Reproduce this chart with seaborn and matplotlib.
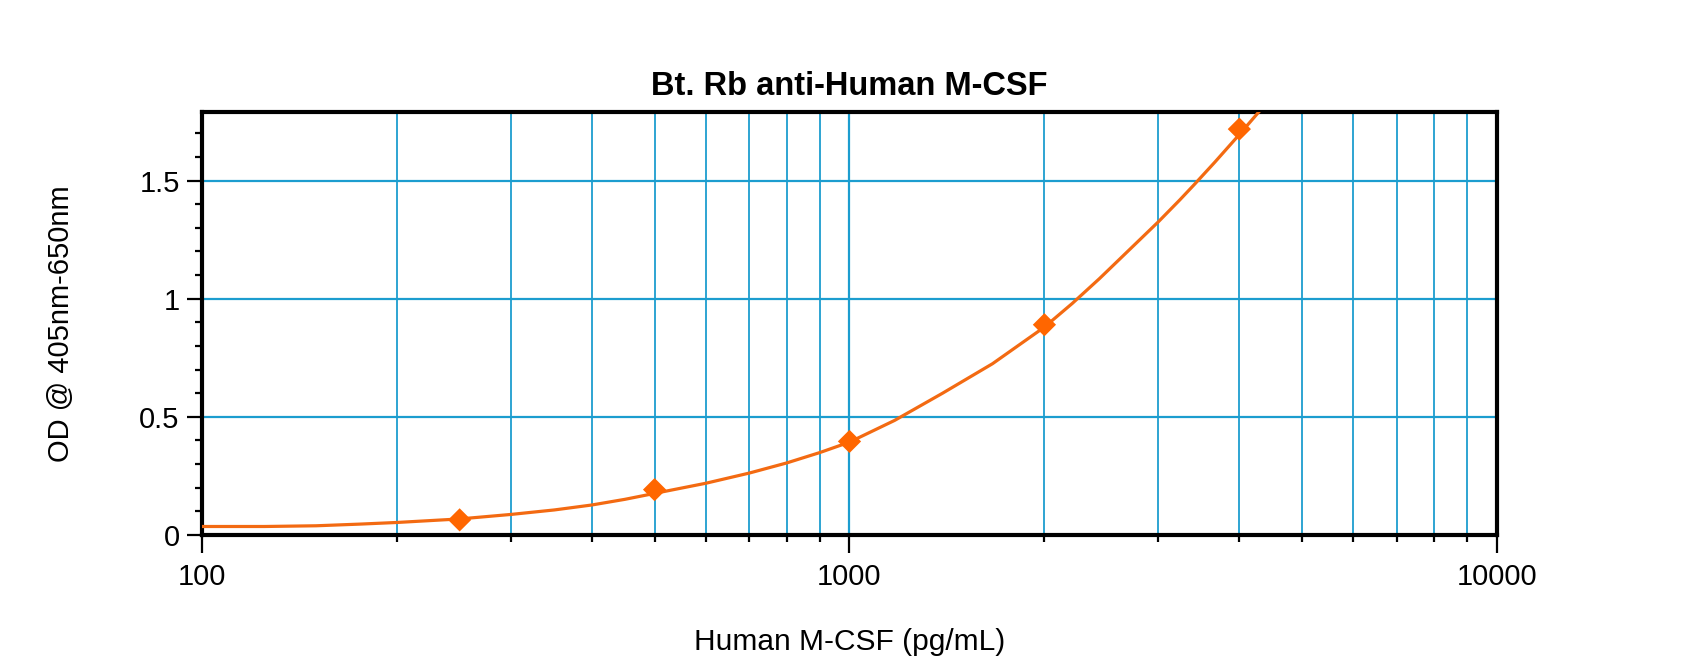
import numpy as np
import pandas as pd
import seaborn as sns
import matplotlib
matplotlib.use('Agg')
import matplotlib.pyplot as plt
from matplotlib.ticker import LogLocator, MultipleLocator, FuncFormatter

sns.set_style('white')
plt.rcParams['font.family'] = ['Liberation Sans', 'DejaVu Sans']
plt.rcParams['text.color'] = 'black'
plt.rcParams['axes.labelcolor'] = 'black'
plt.rcParams['xtick.color'] = 'black'
plt.rcParams['ytick.color'] = 'black'

# standard points (pg/mL, OD)
conc = [250, 500, 1000, 2000, 4000]
od = [0.064, 0.192, 0.396, 0.89, 1.718]

# fitted curve
curve_x = [100, 125, 150, 175, 200, 250, 300, 350, 400, 450, 500, 600, 700,
           800, 900, 1000, 1174, 1392, 1663, 2000, 2208, 2432, 3000, 3236,
           3415, 3666, 4000, 4208, 4300]
curve_y = [0.036, 0.036, 0.039, 0.046, 0.053, 0.068, 0.087, 0.106, 0.127,
           0.151, 0.176, 0.219, 0.262, 0.305, 0.349, 0.393, 0.485, 0.60, 0.725,
           0.88, 0.98, 1.085, 1.326, 1.418, 1.486, 1.578, 1.695, 1.765, 1.795]

pts = pd.DataFrame({'conc': conc, 'od': od})
fit = pd.DataFrame({'conc': curve_x, 'od': curve_y})

grid_col = '#1c9dcf'
orange = '#f36a12'

fig = plt.figure(figsize=(17, 6.66), dpi=100)
ax = fig.add_axes([0.1188, 0.1967, 0.7618, 0.635])

sns.lineplot(data=fit, x='conc', y='od', ax=ax, color=orange, linewidth=2.3, zorder=3)
sns.scatterplot(data=pts, x='conc', y='od', ax=ax, color='#ff6600', marker='D',
                s=140, edgecolor='none', zorder=4)

ax.set_xscale('log')
ax.set_xlim(100, 10000)
ax.set_ylim(0, 1.79)

ax.xaxis.set_major_locator(LogLocator(base=10))
ax.xaxis.set_minor_locator(LogLocator(base=10, subs=np.arange(2, 10)))
ax.xaxis.set_minor_formatter(FuncFormatter(lambda v, p: ''))
ax.xaxis.set_major_formatter(FuncFormatter(lambda v, p: '%d' % v))
ax.yaxis.set_major_locator(MultipleLocator(0.5))
ax.yaxis.set_minor_locator(MultipleLocator(0.1))
ax.yaxis.set_major_formatter(FuncFormatter(lambda v, p: '%g' % v))

ax.grid(True, which='major', axis='both', color=grid_col, linewidth=1.6)
ax.grid(True, which='minor', axis='x', color=grid_col, linewidth=1.3)

for s in ax.spines.values():
    s.set_linewidth(3)
    s.set_color('black')

ax.tick_params(axis='x', which='major', direction='out', length=13, width=1.6,
               labelsize=21, color='black', bottom=True, pad=7)
ax.tick_params(axis='y', which='major', direction='out', length=11, width=1.6,
               labelsize=21, color='black', left=True, pad=5)
ax.tick_params(axis='both', which='minor', direction='out', length=5, width=1.6,
               color='black', left=True, bottom=True)

ax.set_title('Bt. Rb anti-Human M-CSF', fontsize=23.5, fontweight='bold', pad=12,
             color='black')
ax.set_xlabel('Human M-CSF (pg/mL)', fontsize=21.5, labelpad=27)
ax.set_ylabel('OD @ 405nm-650nm', fontsize=21, labelpad=46)

fig.savefig('out.png', dpi=100, facecolor='white')
